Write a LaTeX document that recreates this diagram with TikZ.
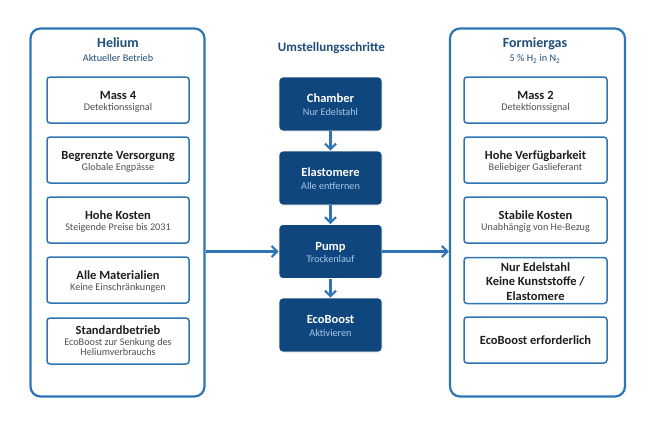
\documentclass[tikz,border=0pt]{standalone}
\usepackage{fontspec}
\setmainfont{Carlito}
\usetikzlibrary{arrows.meta}
\definecolor{linkblue}{HTML}{2E75B6}
\definecolor{titleblue}{HTML}{1F4E79}
\definecolor{darkfill}{HTML}{10467E}
\definecolor{lightsub}{HTML}{A9C8E8}
\definecolor{hdrtext}{HTML}{1E1E1E}
\definecolor{subtext}{HTML}{505050}
\tikzset{
  outerbox/.style={draw=linkblue, line width=2.2pt, rounded corners=10pt, fill=white, minimum width=174pt, minimum height=368pt, inner sep=0pt},
  itembox/.style={draw=linkblue, line width=1.5pt, rounded corners=3pt, fill=white, minimum width=142pt, minimum height=46pt, inner sep=0pt},
  stepbox/.style={draw=white, line width=0.6pt, rounded corners=4pt, fill=darkfill, minimum width=103pt, minimum height=54pt, inner sep=0pt},
  hdr/.style={anchor=base, inner sep=0pt, text=hdrtext, font=\fontsize{12.5}{14.5}\selectfont\bfseries},
  sub/.style={anchor=base, inner sep=0pt, text=subtext, font=\fontsize{10.2}{11}\selectfont},
  whdr/.style={anchor=base, inner sep=0pt, text=white, font=\fontsize{12.5}{14.5}\selectfont\bfseries},
  wsub/.style={anchor=base, inner sep=0pt, text=lightsub, font=\fontsize{10.2}{11}\selectfont},
  coltitle/.style={anchor=base, inner sep=0pt, text=titleblue, font=\fontsize{14}{16}\selectfont\bfseries},
  colsub/.style={anchor=base, inner sep=0pt, text=titleblue, font=\fontsize{10.2}{11}\selectfont},
  flow/.style={draw=linkblue, line width=2.2pt, -{Straight Barb[length=5.5pt,width=11pt]}},
}
\begin{document}
\begin{tikzpicture}[x=1pt,y=-1pt]
\useasboundingbox[fill=white] (0,0) rectangle (660,424);

% outer columns
\node[outerbox] (left) at (117.5,212.5) {};
\node[outerbox, minimum width=175pt] (right) at (537.5,212.5) {};

% titles
\node[coltitle] (tleft) at (118,47.5) {Helium};
\node[colsub] (sleft) at (118,61.5) {Aktueller Betrieb};
\node[coltitle] (tright) at (535,47.5) {Formiergas};
\node[colsub] (sright) at (535,61.5) {5 \% H\textsubscript{2} in N\textsubscript{2}};
\node[coltitle, font=\fontsize{13}{15}\selectfont\bfseries] (tmid) at (331.5,51) {Umstellungsschritte};

% left items
\node[itembox] (l1) at (118,100) {};
\node[hdr] at (118,99) {Mass 4};
\node[sub] at (118,110) {Detektionssignal};

\node[itembox] (l2) at (118,160) {};
\node[hdr] at (118,159) {Begrenzte Versorgung};
\node[sub] at (118,170) {Globale Engpässe};

\node[itembox] (l3) at (118,220) {};
\node[hdr] at (118,219) {Hohe Kosten};
\node[sub] at (118,230) {Steigende Preise bis 2031};

\node[itembox] (l4) at (118,280) {};
\node[hdr] at (118,279) {Alle Materialien};
\node[sub] at (118,290) {Keine Einschränkungen};

\node[itembox] (l5) at (118,341) {};
\node[hdr] at (118,334) {Standardbetrieb};
\node[sub] at (118,345) {EcoBoost zur Senkung des};
\node[sub] at (118,355.5) {Heliumverbrauchs};

% right items
\node[itembox, minimum width=143pt] (r1) at (535.5,100) {};
\node[hdr] at (535.5,99) {Mass 2};
\node[sub] at (535.5,110) {Detektionssignal};

\node[itembox, minimum width=143pt] (r2) at (535.5,160) {};
\node[hdr] at (535.5,159) {Hohe Verfügbarkeit};
\node[sub] at (535.5,170) {Beliebiger Gaslieferant};

\node[itembox, minimum width=143pt] (r3) at (535.5,220) {};
\node[hdr] at (535.5,219) {Stabile Kosten};
\node[sub] at (535.5,230) {Unabhängig von He-Bezug};

\node[itembox, minimum width=143pt] (r4) at (535.5,280.5) {};
\node[hdr] at (535.5,271) {Nur Edelstahl};
\node[hdr] at (535.5,285.5) {Keine Kunststoffe /};
\node[hdr] at (535.5,300) {Elastomere};

\node[itembox, minimum width=143pt] (r5) at (535.5,340) {};
\node[hdr] at (535.5,344.5) {EcoBoost erforderlich};

% steps
\node[stepbox] (s1) at (330.5,104) {};
\node[whdr] at (330.5,102.5) {Chamber};
\node[wsub] at (330.5,115) {Nur Edelstahl};

\node[stepbox] (s2) at (330.5,178) {};
\node[whdr] at (330.5,176.5) {Elastomere};
\node[wsub] at (330.5,189) {Alle entfernen};

\node[stepbox] (s3) at (330.5,251.5) {};
\node[whdr] at (330.5,250) {Pump};
\node[wsub] at (330.5,262.5) {Trockenlauf};

\node[stepbox] (s4) at (330.5,325) {};
\node[whdr] at (330.5,323.5) {EcoBoost};
\node[wsub] at (330.5,336) {Aktivieren};

% connectors
\draw[flow] (s1) -- (s2);
\draw[flow] (s2) -- (s3);
\draw[flow] (s3) -- (s4);
\draw[flow] (left.east |- s3.west) -- (s3.west);
\draw[flow] (s3.east) -- (right.west |- s3.east);
\end{tikzpicture}
\end{document}
